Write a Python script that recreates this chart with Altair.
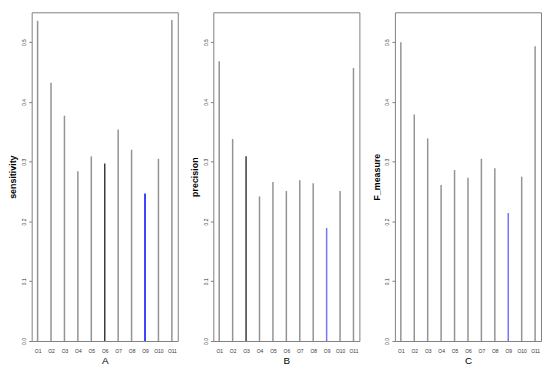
import altair as alt
import pandas as pd

names = ["O1", "O2", "O3", "O4", "O5", "O6", "O7", "O8", "O9", "O10", "O11"]
sensitivity = [0.536, 0.432, 0.377, 0.284, 0.309, 0.297, 0.354, 0.320, 0.247, 0.305, 0.537]
precision = [0.468, 0.338, 0.309, 0.242, 0.266, 0.251, 0.269, 0.264, 0.189, 0.251, 0.457]
f_measure = [0.500, 0.379, 0.339, 0.261, 0.286, 0.273, 0.305, 0.289, 0.214, 0.275, 0.493]

panel_titles = ["A", "B", "C"]
metric_titles = ["sensitivity", "precision", "F_measure"]
dark_item = ["O6", "O3", None]
blue_item = ["O9", "O9", "O9"]
blue_color = ["#0000ff", "#7373ff", "#7373ff"]
grey = "#939393"
dark = "#3a3a3a"

y_ticks = [0.0, 0.1, 0.2, 0.3, 0.4, 0.5]
x_ticks = list(range(1, 12))

FONT = "Liberation Sans"


def panel(values, i):
    colors = []
    for n in names:
        if n == blue_item[i]:
            colors.append(blue_color[i])
        elif n == dark_item[i]:
            colors.append(dark)
        else:
            colors.append(grey)
    df = pd.DataFrame({
        "idx": list(range(1, len(names) + 1)),
        "name": names,
        "value": values,
        "color": colors,
    })
    return alt.Chart(df).mark_rule(strokeWidth=1.5).encode(
        x=alt.X("idx:Q",
                scale=alt.Scale(domain=[0.56, 11.44], nice=False, zero=False),
                axis=alt.Axis(values=x_ticks, labelExpr="'O' + datum.value",
                              ticks=False, domain=False, grid=False,
                              labelFontSize=5, labelPadding=8, labelColor="#333333",
                              labelOverlap=False, labelFlush=False,
                              title=panel_titles[i], titleFontSize=10,
                              titleFontWeight="normal", titlePadding=2,
                              titleColor="#000000")),
        y=alt.Y("value:Q",
                scale=alt.Scale(domain=[0, 0.55], nice=False),
                axis=alt.Axis(values=y_ticks, format=".1f", labelAngle=-90,
                              labelAlign="center", labelBaseline="bottom",
                              labelFontSize=5, labelPadding=2, labelColor="#333333",
                              tickSize=3, tickColor="#808080", domain=False,
                              grid=False, title=metric_titles[i],
                              titleFontSize=9, titleFontWeight="bold",
                              titlePadding=4, titleColor="#000000")),
        y2=alt.datum(0),
        color=alt.Color("color:N", scale=None),
    ).properties(width=148, height=333)


chart = alt.hconcat(
    panel(sensitivity, 0),
    panel(precision, 1),
    panel(f_measure, 2),
    spacing=11,
).properties(
    padding={"left": 0, "top": 1, "right": 0, "bottom": 0}
).configure(
    font=FONT,
    view=alt.ViewConfig(stroke="#808080", strokeWidth=1),
)

chart.save("out.html", embed_options={"renderer": "svg", "actions": False})
